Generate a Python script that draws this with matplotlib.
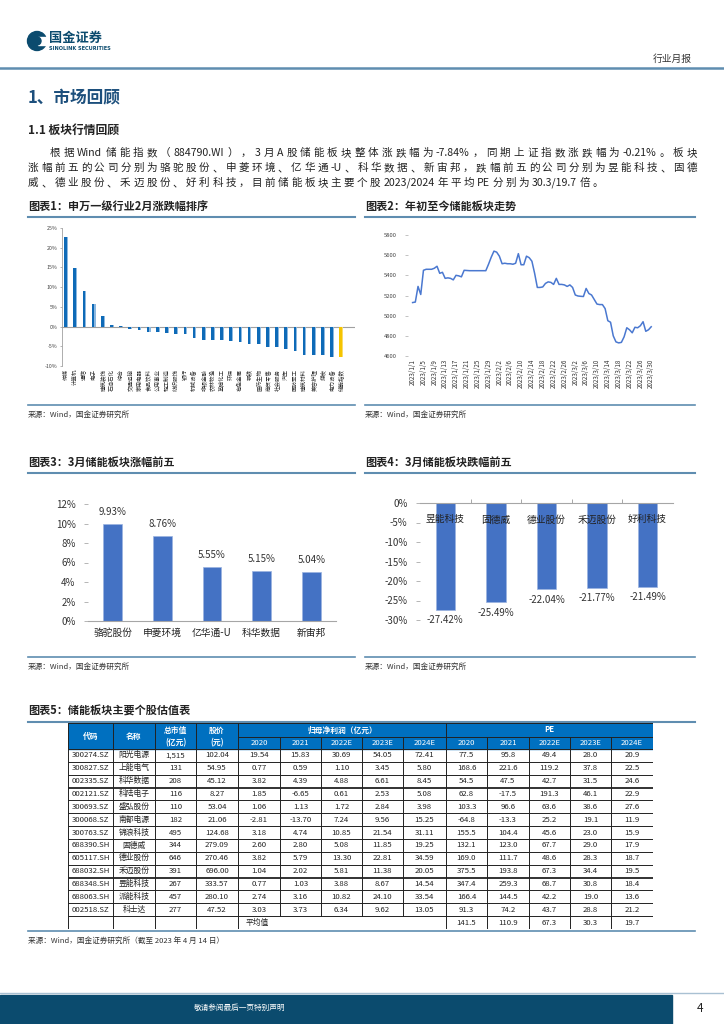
import re
import numpy as np
import pandas as pd
import matplotlib
matplotlib.use('Agg')
import matplotlib.pyplot as plt
from matplotlib.patches import Rectangle, Circle

plt.rcParams['font.family'] = ['Noto Sans CJK SC', 'DejaVu Sans']
plt.rcParams['axes.unicode_minus'] = False

W, H = 724, 1024

# ---------------- 数据 ----------------
# 图表1 申万一级行业2月涨跌幅(%)
ind_names = ['传媒', '计算机', '通信', '电子', '建筑装饰', '石油石化', '综合', '交通运输',
             '家用电器', '食品饮料', '公用事业', '轻工制造', '纺织服饰', '银行', '机械设备',
             '非银金融', '农林牧渔', '基础化工', '环保', '有色金属', '钢铁', '医药生物',
             '商贸零售', '社会服务', '汽车', '国防军工', '建筑材料', '美容护理', '煤炭',
             '电力设备', '储能指数']
ind_chg = [22.6, 14.8, 9.1, 5.8, 2.6, 0.5, 0.1, -0.7, -0.8, -1.35, -1.4, -1.7, -1.8, -2.0,
           -2.8, -3.4, -3.4, -3.5, -3.6, -3.8, -4.3, -4.5, -5.1, -5.3, -5.6, -6.2, -7.1,
           -7.2, -7.2, -7.6, -7.7]

# 图表2 储能板块走势 (2023/1/1 - 2023/3/30 逐日)
idx_vals = [5130, 5135, 5290, 5210, 5450, 5460, 5460, 5460, 5470, 5490,
            5420, 5430, 5370, 5375, 5370, 5355, 5400, 5395, 5385, 5450,
            5448, 5446, 5446, 5446, 5446, 5446, 5446, 5446, 5510, 5580,
            5640, 5630, 5590, 5515, 5520, 5515, 5515, 5510, 5520, 5615,
            5505, 5505, 5590, 5575, 5540, 5420, 5280, 5280, 5285, 5320,
            5335, 5330, 5310, 5370, 5310, 5310, 5305, 5290, 5305, 5280,
            5205, 5195, 5192, 5190, 5270, 5220, 5205, 5160, 5115, 5110,
            5110, 5070, 4950, 4935, 4800, 4740, 4730, 4735, 4790, 4880,
            4860, 4830, 4885, 4880, 4900, 4940, 4845, 4860, 4890]

# 图表3 涨幅前五
up_names = ['骆驼股份', '申菱环境', '亿华通-U', '科华数据', '新宙邦']
up_vals = [9.93, 8.76, 5.55, 5.15, 5.04]

# 图表4 跌幅前五
down_names = ['昱能科技', '固德威', '德业股份', '禾迈股份', '好利科技']
down_vals = [-27.42, -25.49, -22.04, -21.77, -21.49]

# 图表5 估值表
codes = ['300274.SZ', '300827.SZ', '002335.SZ', '002121.SZ', '300693.SZ', '300068.SZ',
         '300763.SZ', '688390.SH', '605117.SH', '688032.SH', '688348.SH', '688063.SH',
         '002518.SZ']
names = ['阳光电源', '上能电气', '科华数据', '科陆电子', '盛弘股份', '南都电源', '锦浪科技',
         '固德威', '德业股份', '禾迈股份', '昱能科技', '派能科技', '科士达']
mkt_cap = ['1,515', '131', '208', '116', '110', '182', '495', '344', '646', '391', '267',
           '457', '277']
price = ['102.04', '54.95', '45.12', '8.27', '53.04', '21.06', '124.68', '279.09', '270.46',
         '696.00', '333.57', '280.10', '47.52']
profit = [['19.54', '15.83', '30.69', '54.05', '72.41'],
          ['0.77', '0.59', '1.10', '3.45', '5.80'],
          ['3.82', '4.39', '4.88', '6.61', '8.45'],
          ['1.85', '-6.65', '0.61', '2.53', '5.08'],
          ['1.06', '1.13', '1.72', '2.84', '3.98'],
          ['-2.81', '-13.70', '7.24', '9.56', '15.25'],
          ['3.18', '4.74', '10.85', '21.54', '31.11'],
          ['2.60', '2.80', '5.08', '11.85', '19.25'],
          ['3.82', '5.79', '13.30', '22.81', '34.59'],
          ['1.04', '2.02', '5.81', '11.38', '20.05'],
          ['0.77', '1.03', '3.88', '8.67', '14.54'],
          ['2.74', '3.16', '10.82', '24.10', '33.54'],
          ['3.03', '3.73', '6.34', '9.62', '13.05']]
pe = [['77.5', '95.8', '49.4', '28.0', '20.9'],
      ['168.6', '221.6', '119.2', '37.8', '22.5'],
      ['54.5', '47.5', '42.7', '31.5', '24.6'],
      ['62.8', '-17.5', '191.3', '46.1', '22.9'],
      ['103.3', '96.6', '63.6', '38.6', '27.6'],
      ['-64.8', '-13.3', '25.2', '19.1', '11.9'],
      ['155.5', '104.4', '45.6', '23.0', '15.9'],
      ['132.1', '123.0', '67.7', '29.0', '17.9'],
      ['169.0', '111.7', '48.6', '28.3', '18.7'],
      ['375.5', '193.8', '67.3', '34.4', '19.5'],
      ['347.4', '259.3', '68.7', '30.8', '18.4'],
      ['166.4', '144.5', '42.2', '19.0', '13.6'],
      ['91.3', '74.2', '43.7', '28.8', '21.2']]
pe_avg = ['141.5', '110.9', '67.3', '30.3', '19.7']
years = ['2020', '2021', '2022E', '2023E', '2024E']

# ---------------- 页面 ----------------
NAVY = '#0b4b6e'
LINE = '#5f8db0'
BAR = '#4472c4'

fig = plt.figure(figsize=(W / 100, H / 100), dpi=100)
bg = fig.add_axes([0, 0, 1, 1])
bg.set_xlim(0, W)
bg.set_ylim(H, 0)
bg.axis('off')


def ax_px(x0, y0, x1, y1):
    return fig.add_axes([x0 / W, 1 - y1 / H, (x1 - x0) / W, (y1 - y0) / H])


def justify(s, x0, y, size, x1=None, gap=None, **kw):
    """逐字排版，两端对齐"""
    toks = re.findall(r'[A-Za-z0-9.%\-/]+|[^\s]', s)
    r = fig.canvas.get_renderer()
    ws = []
    for t in toks:
        tx = bg.text(0, 0, t, fontsize=size, **kw)
        ws.append(tx.get_window_extent(r).width)
        tx.remove()
    if gap is None:
        gap = (x1 - x0 - sum(ws)) / (len(toks) - 1)
    x = x0
    for t, w in zip(toks, ws):
        bg.text(x, y, t, fontsize=size, va='center', ha='left', **kw)
        x += w + gap
    return gap


# 页眉
bg.add_patch(Circle((37, 41), 9.5, color=NAVY))
bg.add_patch(Rectangle((38, 37), 9, 8, color='white'))
bg.add_patch(Circle((37, 41), 4, color=NAVY))
bg.text(49, 38, '国金证券', fontsize=9.5, fontweight='bold', color=NAVY, va='center')
bg.text(49, 48.5, 'SINOLINK SECURITIES', fontsize=3.6, fontweight='bold', color=NAVY,
        va='center', family='DejaVu Sans')
bg.text(692, 59, '行业月报', fontsize=7, color='#333333', ha='right', va='center')
bg.plot([0, W], [67.5, 67.5], color=LINE, lw=1.8)

bg.text(28, 98, '1、市场回顾', fontsize=12, fontweight='bold', color='#1c4f7c', va='center')
bg.text(28, 130, '1.1 板块行情回顾', fontsize=8.5, fontweight='bold', color='#222222',
        va='center')

p1 = 'Wind 储能指数（884790.WI），3 月 A 股储能板块整体涨跌幅为-7.84%，同期上证指数涨跌幅为-0.21%。板块'
p2 = '涨幅前五的公司分别为骆驼股份、申菱环境、亿华通-U、科华数据、新宙邦，跌幅前五的公司分别为昱能科技、固德'
p3 = '威、德业股份、禾迈股份、好利科技，目前储能板块主要个股 2023/2024 年平均 PE 分别为 30.3/19.7 倍。'
justify('根据' + p1, 50, 153, 7.6, x1=697, color='#222222')
g = justify(p2, 28, 168, 7.6, x1=697, color='#222222')
justify(p3, 28, 183, 7.6, gap=g, color='#222222')


def chart_title(x0, x1, y, s):
    bg.text(x0, y, s, fontsize=8, fontweight='bold', color='#222222', va='center')
    bg.plot([x0, x1], [y + 11, y + 11], color=LINE, lw=1.5)


def source(x0, x1, y, s='来源：Wind，国金证券研究所'):
    bg.plot([x0, x1], [y - 10, y - 10], color=LINE, lw=1.2)
    bg.text(x0, y, s, fontsize=5.5, color='#333333', va='center')


chart_title(28, 355, 206, '图表1：申万一级行业2月涨跌幅排序')
chart_title(365, 695, 206, '图表2：年初至今储能板块走势')
source(28, 355, 415)
source(365, 695, 415)
chart_title(28, 355, 462, '图表3：3月储能板块涨幅前五')
chart_title(365, 695, 462, '图表4：3月储能板块跌幅前五')
source(28, 355, 667)
source(365, 695, 667)
chart_title(28, 695, 711, '图表5：储能板块主要个股估值表')
source(28, 695, 941, '来源：Wind，国金证券研究所（截至 2023 年 4 月 14 日）')

# 页脚
bg.plot([0, W], [993, 993], color='#a9c1d3', lw=1)
bg.add_patch(Rectangle((0, 995), 672, 29, color=NAVY))
bg.text(240, 1008, '敬请参阅最后一页特别声明', fontsize=5.5, color='white', ha='center',
        va='center')
bg.text(700, 1008, '4', fontsize=8.5, color='#222222', ha='center', va='center')

# ---------------- 图表1 ----------------
ax1 = ax_px(62, 228, 355, 366)
x = np.arange(len(ind_chg))
cols = ['#0e6ab7'] * (len(ind_chg) - 1) + ['#f5c400']
ax1.bar(x - 0.05, ind_chg, width=0.3, color=cols, zorder=2)
ax1.bar(x + 0.15, ind_chg, width=0.12,
        color=['#8cb8e0'] * (len(ind_chg) - 1) + ['#f9dc6a'], zorder=2)
ax1.axhline(0, color='#a0a0a0', lw=0.8, zorder=1)
ax1.set_xlim(-0.45, 31.5)
ax1.set_ylim(-10, 25)
ax1.set_yticks(np.arange(-10, 26, 5))
ax1.set_yticklabels([f'{v}%' for v in range(-10, 26, 5)], fontsize=3.8, color='#444444')
ax1.set_xticks(x)
ax1.set_xticklabels(ind_names, rotation=90, fontsize=4, color='#333333')
ax1.tick_params(axis='x', length=0, pad=2)
ax1.tick_params(axis='y', length=1.5, width=0.5, color='#999999', pad=1.5)
for s in ['top', 'right', 'bottom']:
    ax1.spines[s].set_visible(False)
ax1.spines['left'].set_color('#a0a0a0')
ax1.spines['left'].set_linewidth(0.6)

# ---------------- 图表2 ----------------
ax2 = ax_px(408, 235, 655, 356)
dates = pd.date_range('2023-01-01', periods=len(idx_vals), freq='D')
d = np.arange(len(idx_vals))
ax2.plot(d, idx_vals, color='#4a78d0', lw=1.1)
ax2.set_xlim(-1.7, 89.4)
ax2.set_ylim(4600, 5800)
ax2.set_yticks(range(4600, 5801, 200))
ax2.set_yticklabels([str(v) for v in range(4600, 5801, 200)], fontsize=4.2, color='#444444')
ax2.set_xticks(d[::4])
ax2.set_xticklabels([f'{t.year}/{t.month}/{t.day}' for t in dates[::4]], rotation=90,
                    fontsize=4.5, color='#333333')
ax2.tick_params(axis='x', length=0, pad=2)
ax2.tick_params(axis='y', length=2, width=0.5, color='#aaaaaa', pad=6)
for s in ax2.spines.values():
    s.set_visible(False)

# ---------------- 图表3 ----------------
ax3 = ax_px(88, 504, 336, 621)
x = np.arange(len(up_vals))
ax3.bar(x, up_vals, width=0.38, color=BAR, edgecolor='#9ab3e0', lw=0.5)
for xi, v in zip(x, up_vals):
    ax3.annotate(f'{v:.2f}%', (xi, v), xytext=(0, 5), textcoords='offset points',
                 ha='center', va='bottom', fontsize=7, color='#333333')
ax3.set_xlim(-0.5, 4.5)
ax3.set_ylim(0, 12)
ax3.set_yticks(range(0, 13, 2))
ax3.set_yticklabels([f'{v}%' for v in range(0, 13, 2)], fontsize=7, color='#333333')
ax3.set_xticks(x)
ax3.set_xticklabels(up_names, fontsize=7, color='#222222')
ax3.tick_params(axis='x', length=0, pad=5)
ax3.tick_params(axis='y', length=3, width=0.5, color='#999999', pad=6)
for s in ['top', 'right', 'left']:
    ax3.spines[s].set_visible(False)
ax3.spines['bottom'].set_color('#a6a6a6')

# ---------------- 图表4 ----------------
ax4 = ax_px(420, 503, 673, 620)
x = np.arange(len(down_vals))
ax4.bar(x, down_vals, width=0.38, color=BAR, edgecolor='#9ab3e0', lw=0.5)
for xi, v, n in zip(x, down_vals, down_names):
    ax4.annotate(f'{v:.2f}%', (xi, v), xytext=(0, -4), textcoords='offset points',
                 ha='center', va='top', fontsize=7, color='#333333')
    ax4.text(xi, -4.2, n, ha='center', va='center', fontsize=7, color='#222222')
ax4.set_xlim(-0.5, 4.5)
ax4.set_ylim(-30, 0)
ax4.set_yticks(range(-30, 1, 5))
ax4.set_yticklabels([f'{v}%' for v in range(-30, 1, 5)], fontsize=7, color='#333333')
ax4.xaxis.tick_top()
ax4.set_xticks(np.arange(0.5, 4, 1))
ax4.set_xticklabels([])
ax4.tick_params(axis='x', length=3, width=0.6, color='#999999', direction='out')
ax4.tick_params(axis='y', length=3, width=0.5, color='#999999', pad=6)
for s in ['bottom', 'right', 'left']:
    ax4.spines[s].set_visible(False)
ax4.spines['top'].set_color('#a6a6a6')

# ---------------- 图表5 估值表 ----------------
tb = ax_px(68, 723, 653, 929)
tb.set_xlim(68, 653)
tb.set_ylim(929, 723)
tb.axis('off')
cx = [68, 113, 155, 196, 238, 280, 321, 362, 403, 446, 487, 529, 570, 611, 653]
ry = [723, 737, 749]
rh = (929 - 749) / (len(codes) + 1)
ry += [749 + rh * (i + 1) for i in range(len(codes) + 1)]
HB = '#0070c0'
tb.add_patch(Rectangle((68, 723), 585, 26, color=HB))
hk = dict(color='white', fontsize=5.6, fontweight='bold', ha='center', va='center')
tb.text((cx[0] + cx[1]) / 2, 736, '代码', **hk)
tb.text((cx[1] + cx[2]) / 2, 736, '名称', **hk)
tb.text((cx[2] + cx[3]) / 2, 730, '总市值', **hk)
tb.text((cx[2] + cx[3]) / 2, 743, '(亿元)', **hk)
tb.text((cx[3] + cx[4]) / 2, 730, '股价', **hk)
tb.text((cx[3] + cx[4]) / 2, 743, '(元)', **hk)
tb.text((cx[4] + cx[9]) / 2, 730, '归母净利润（亿元）', **hk)
tb.text((cx[9] + cx[14]) / 2, 730, 'PE', **hk)
for j in range(10):
    tb.text((cx[4 + j] + cx[5 + j]) / 2, 743, years[j % 5], color='white', fontsize=5.6,
            ha='center', va='center')
bk = dict(color='#222222', fontsize=5.6, ha='center', va='center')
for i in range(len(codes)):
    yc = (ry[2 + i] + ry[3 + i]) / 2
    row = [codes[i], names[i], mkt_cap[i], price[i]] + profit[i] + pe[i]
    for j, v in enumerate(row):
        tb.text((cx[j] + cx[j + 1]) / 2, yc, v, **bk)
yc = (ry[-2] + ry[-1]) / 2
tb.text((cx[0] + cx[9]) / 2, yc, '平均值', **bk)
for j, v in enumerate(pe_avg):
    tb.text((cx[9 + j] + cx[10 + j]) / 2, yc, v, **bk)

# 表格线
lk = dict(color='#222222', lw=0.7)
tb.plot([cx[0], cx[-1]], [723, 723], **lk)
tb.plot([cx[4], cx[-1]], [737, 737], **lk)
for k, yy in enumerate(ry[2:]):
    w = 1.3 if k in (3, 10) else 0.7
    tb.plot([cx[0], cx[-1]], [yy, yy], color='#222222', lw=w)
for j, xx in enumerate(cx):
    if j in (0, 1, 2, 3, 4, 9, 14):
        tb.plot([xx, xx], [723, 929], **lk)
    else:
        tb.plot([xx, xx], [737, ry[-2]], **lk)
for xx in cx[10:14]:
    tb.plot([xx, xx], [ry[-2], 929], **lk)

fig.savefig('out.png', dpi=100)
